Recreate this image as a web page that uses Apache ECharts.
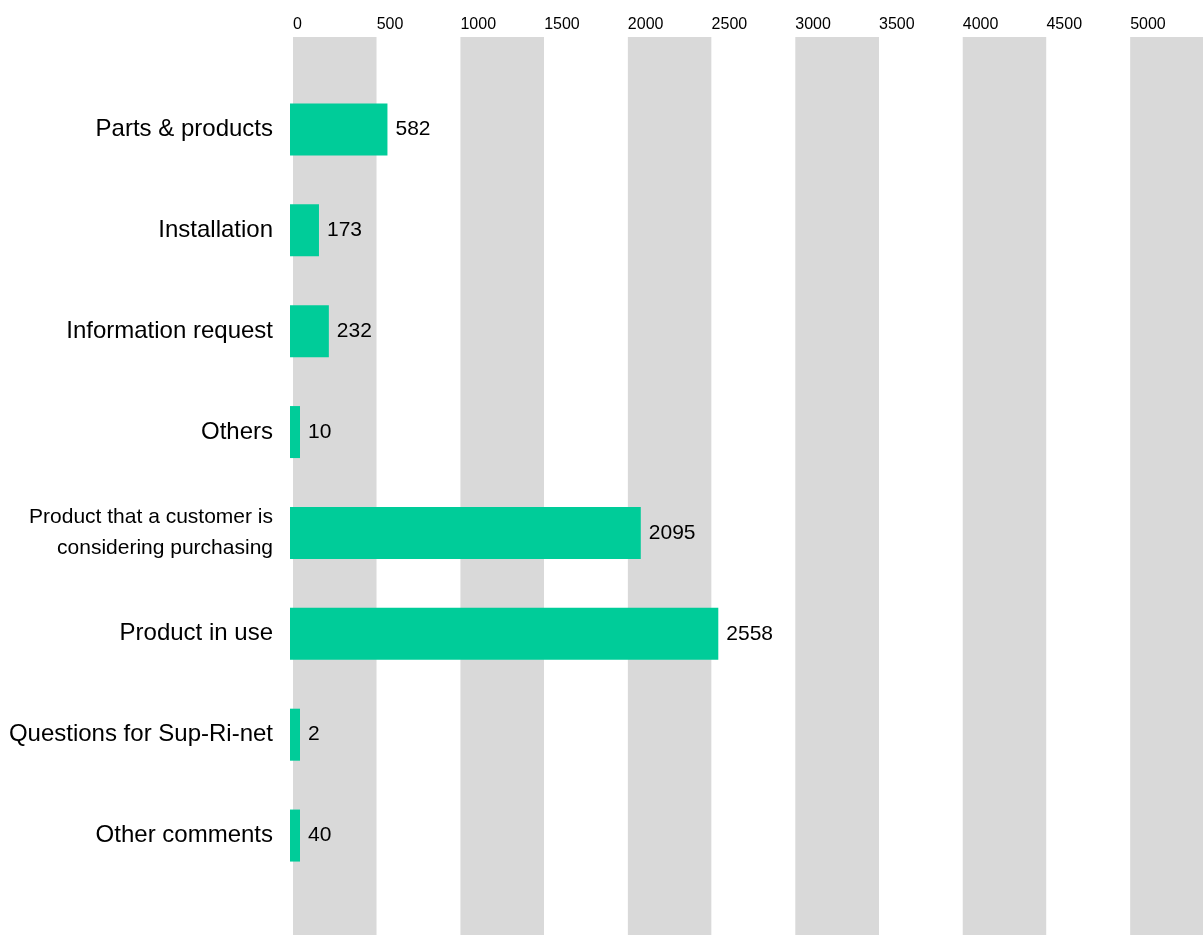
<!DOCTYPE html>
<html>
<head>
<meta charset="utf-8">
<script src="https://cdn.jsdelivr.net/npm/echarts@6/dist/echarts.min.js"></script>
<style>
    html, body { margin: 0; padding: 0; background: #fff; }
    #chart { width: 1203px; height: 935px; }
</style>
</head>
<body>
<div id="chart"></div>
<script>
    // data
    var categories = [
        'Parts & products',
        'Installation',
        'Information request',
        'Others',
        'Product that a customer is\nconsidering purchasing',
        'Product in use',
        'Questions for Sup-Ri-net',
        'Other comments'
    ];
    var counts = [582, 173, 232, 10, 2095, 2558, 2, 40];
    var tickStep = 500;
    var axisMax = 5435;

    var FONT = '"Liberation Sans", Arial, sans-serif';

    var chart = echarts.init(document.getElementById('chart'));

    chart.setOption({
        animation: false,
        textStyle: { fontFamily: FONT },
        grid: [
            // background grid with the grey stripes and the top scale
            { left: 293, right: 0, top: 37, bottom: 0 },
            // grid for the bars
            { left: 290, right: 0, top: 79, bottom: 49 }
        ],
        xAxis: [{
            gridIndex: 0,
            type: 'value',
            position: 'top',
            min: 0,
            max: axisMax,
            interval: tickStep,
            axisLine: { show: false },
            axisTick: { show: false },
            splitLine: { show: false },
            splitArea: {
                show: true,
                areaStyle: { color: ['#d9d9d9', '#ffffff'] }
            },
            axisLabel: {
                align: 'left',
                margin: 4,
                fontSize: 16,
                color: '#000',
                fontFamily: FONT,
                showMaxLabel: false,
                formatter: function (v) { return String(v); }
            }
        }, {
            gridIndex: 1,
            type: 'value',
            min: 0,
            max: axisMax * 913 / 910,
            show: false
        }],
        yAxis: [{
            gridIndex: 0,
            type: 'value',
            show: false
        }, {
            gridIndex: 1,
            type: 'category',
            inverse: true,
            data: categories,
            axisLine: { show: false },
            axisTick: { show: false },
            axisLabel: {
                margin: 17,
                fontSize: 24,
                color: '#000',
                fontFamily: FONT,
                formatter: function (v) {
                    if (v.indexOf('\n') >= 0) {
                        return v.split('\n').map(function (s) { return '{s|' + s + '}'; }).join('\n');
                    }
                    return v;
                },
                rich: {
                    s: { fontSize: 21, lineHeight: 31, color: '#000', fontFamily: FONT, align: 'right' }
                }
            }
        }],
        series: [{
            type: 'bar',
            xAxisIndex: 1,
            yAxisIndex: 1,
            data: counts,
            barWidth: 52,
            barMinHeight: 10,
            itemStyle: { color: '#00cc99' },
            label: {
                show: true,
                position: 'right',
                distance: 8,
                fontSize: 21,
                color: '#000',
                fontFamily: FONT
            }
        }]
    });
</script>
</body>
</html>
